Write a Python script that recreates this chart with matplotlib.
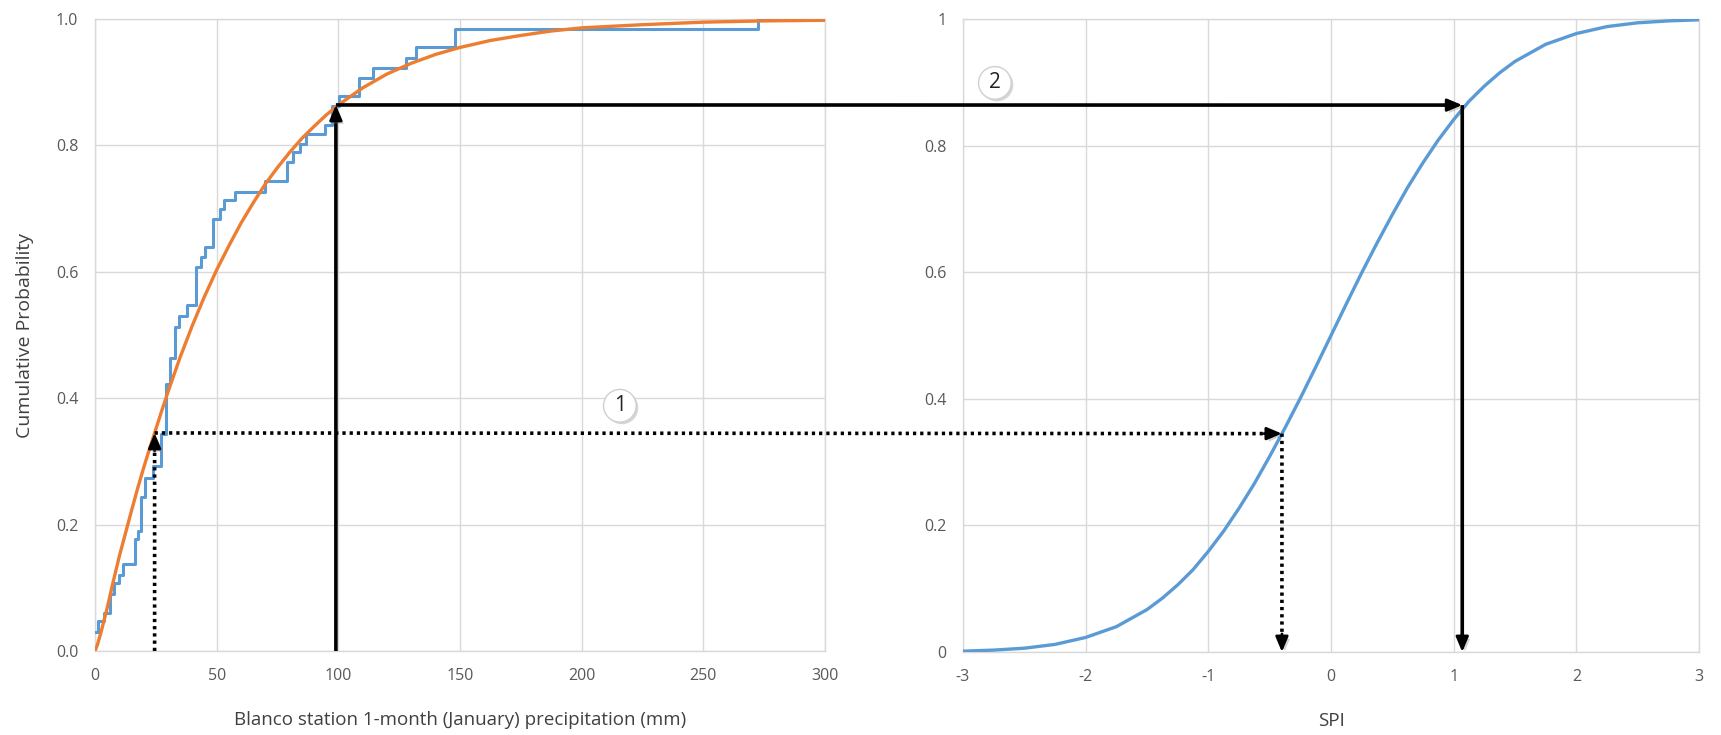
import matplotlib
matplotlib.use("Agg")
import matplotlib.pyplot as plt
import matplotlib.patheffects as pe

plt.rcParams['font.family'] = ['Open Sans', 'DejaVu Sans']
plt.rcParams['axes.unicode_minus'] = False

# ---- data ----
# empirical (observed) cumulative probability, step levels
emp_precip = [0, 1.4, 3.5, 6.3, 8, 10, 11.7, 16.5, 17.8, 19, 20.5, 23.7, 27, 29, 31, 33,
              34.6, 38, 41.4, 43.5, 45, 48.3, 51.4, 53, 57.5, 70, 78.8, 81.5, 84.3, 86.6,
              94.7, 97.5, 100.4, 108.5, 114.4, 128, 132, 148, 272.5, 300]
emp_prob = [0.03, 0.047, 0.06, 0.09, 0.107, 0.12, 0.137, 0.177, 0.19, 0.243, 0.273, 0.293,
            0.343, 0.423, 0.463, 0.513, 0.53, 0.547, 0.607, 0.623, 0.64, 0.683, 0.70, 0.713,
            0.727, 0.743, 0.773, 0.789, 0.803, 0.818, 0.833, 0.862, 0.878, 0.907, 0.923,
            0.939, 0.955, 0.984, 1.0, 1.0]
# fitted (gamma) cumulative probability
fit_precip = [0, 1, 2.5, 5, 7.5, 10, 12.5, 15, 17.5, 20, 22.5, 25, 27.5, 30, 35, 40, 45, 50,
              55, 60, 65, 70, 75, 80, 85, 90, 95, 100, 110, 120, 130, 140, 150, 162.5, 175,
              187.5, 200, 225, 250, 275, 300]
fit_prob = [0.0, 0.01, 0.03, 0.068, 0.11, 0.15, 0.186, 0.222, 0.257, 0.29, 0.321, 0.351,
            0.381, 0.41, 0.465, 0.515, 0.561, 0.603, 0.641, 0.677, 0.709, 0.739, 0.765,
            0.789, 0.811, 0.83, 0.848, 0.864, 0.891, 0.913, 0.93, 0.944, 0.955, 0.966,
            0.974, 0.981, 0.986, 0.991, 0.995, 0.997, 0.998]
# standard normal CDF (SPI)
spi = [-3, -2.75, -2.5, -2.25, -2, -1.75, -1.5, -1.375, -1.25, -1.125, -1, -0.875, -0.75,
       -0.625, -0.5, -0.375, -0.25, -0.125, 0, 0.125, 0.25, 0.375, 0.5, 0.625, 0.75, 0.875,
       1, 1.125, 1.25, 1.375, 1.5, 1.75, 2, 2.25, 2.5, 2.75, 3]
spi_prob = [0.0013, 0.003, 0.006, 0.012, 0.023, 0.040, 0.067, 0.085, 0.106, 0.130, 0.159,
            0.191, 0.227, 0.266, 0.309, 0.354, 0.401, 0.450, 0.5, 0.550, 0.599, 0.646,
            0.691, 0.734, 0.773, 0.809, 0.841, 0.870, 0.894, 0.915, 0.933, 0.960, 0.977,
            0.988, 0.994, 0.997, 0.9987]
left_xticks = [0, 50, 100, 150, 200, 250, 300]
left_yticks = [0.0, 0.2, 0.4, 0.6, 0.8, 1.0]
left_yticklabels = ['0.0', '0.2', '0.4', '0.6', '0.8', '1.0']
right_xticks = [-3, -2, -1, 0, 1, 2, 3]
right_yticks = [0, 0.2, 0.4, 0.6, 0.8, 1]
right_yticklabels = ['0', '0.2', '0.4', '0.6', '0.8', '1']
# example lookups: (precip, prob, spi)
ex1 = (24.5, 0.345, -0.40)
ex2 = (99.0, 0.864, 1.07)

BLUE = '#5B9BD5'
ORANGE = '#ED7D31'
GRID = '#d9d9d9'
TICK = '#595959'

fig = plt.figure(figsize=(17.21, 7.35), dpi=100)
ax1 = fig.add_axes([95/1721, 84/735, 730/1721, 632/735])
ax2 = fig.add_axes([963/1721, 83/735, 736/1721, 633/735])

for ax in (ax1, ax2):
    ax.grid(True, color=GRID, lw=1)
    ax.set_axisbelow(True)
    for s in ax.spines.values():
        s.set_color(GRID)
        s.set_linewidth(1)
    ax.tick_params(length=0, colors=TICK, labelsize=11.5, pad=12)

ax1.step(emp_precip, emp_prob, where='post', color=BLUE, lw=2.2, zorder=3)
ax1.plot(fit_precip, fit_prob, color=ORANGE, lw=2.4, zorder=4)
ax1.set_xlim(0, 300)
ax1.set_ylim(0, 1)
ax1.set_xticks(left_xticks)
ax1.set_yticks(left_yticks)
ax1.set_yticklabels(left_yticklabels)
ax1.set_xlabel('Blanco station 1-month (January) precipitation (mm)', fontsize=13.5,
               color='#404040', labelpad=20)
ax1.set_ylabel('Cumulative Probability', fontsize=14, color='#404040', labelpad=16)

ax2.plot(spi, spi_prob, color=BLUE, lw=2.4, zorder=3)
ax2.set_xlim(-3, 3)
ax2.set_ylim(0, 1)
ax2.set_xticks(right_xticks)
ax2.set_yticks(right_yticks)
ax2.set_yticklabels(right_yticklabels)
ax2.set_xlabel('SPI', fontsize=13.5, color='#404040', labelpad=20)

shadow = [pe.SimplePatchShadow(offset=(2, -2), shadow_rgbFace='#888888', alpha=0.35), pe.Normal()]
HEAD = 13  # head length in points


def arrow(ax_to, xy_to, ax_from, xy_from, ls, direction):
    # body
    ax_to.annotate('', xy=xy_to, xycoords='data', xytext=xy_from,
                   textcoords=ax_from.transData, annotation_clip=False,
                   arrowprops=dict(arrowstyle='-', color='black', lw=2.6, linestyle=ls,
                                   capstyle='butt', shrinkA=0, shrinkB=HEAD * 0.7,
                                   path_effects=shadow),
                   zorder=6)
    # solid head
    dx, dy = direction
    ax_to.annotate('', xy=xy_to, xycoords='data', xytext=(-dx * HEAD, -dy * HEAD),
                   textcoords='offset points', annotation_clip=False,
                   arrowprops=dict(arrowstyle='-|>,head_length=0.9,head_width=0.38',
                                   color='black', lw=2.0, linestyle='-',
                                   shrinkA=0, shrinkB=0, path_effects=shadow),
                   zorder=6)


for (px, pp, sx), ls in ((ex1, (0, (0.9, 1.1))), (ex2, '-')):
    arrow(ax1, (px, pp), ax1, (px, 0), ls, (0, 1))
    arrow(ax2, (sx, pp), ax1, (px, pp), ls, (1, 0))
    arrow(ax2, (sx, 0), ax2, (sx, pp), ls, (0, -1))

bbox = dict(boxstyle='circle,pad=0.28', fc='white', ec='#cfcfcf', lw=1)
circ_shadow = [pe.SimplePatchShadow(offset=(1.5, -1.5), shadow_rgbFace='#999999', alpha=0.4),
               pe.Normal()]
for ax, (cx, cy), lab in ((ax1, (215.7, 0.388), '1'), (ax2, (-2.74, 0.899), '2')):
    t = ax.text(cx, cy, lab, fontsize=15, ha='center', va='center', color='#222222',
                bbox=bbox, zorder=7, clip_on=False)
    t.get_bbox_patch().set_path_effects(circ_shadow)

fig.savefig('out.png', dpi=100)
